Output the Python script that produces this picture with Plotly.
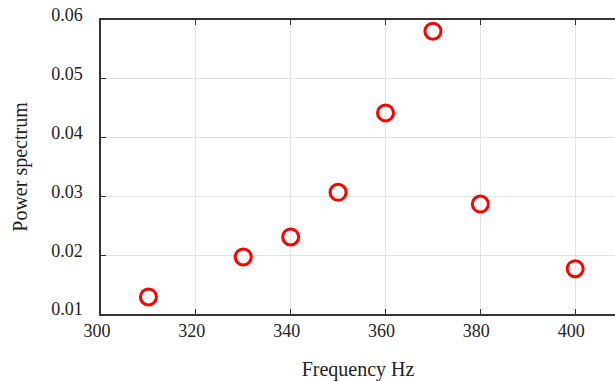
import plotly.graph_objects as go

freq = [310, 330, 340, 350, 360, 370, 380, 400]
power = [0.0129, 0.0197, 0.0231, 0.0307, 0.0442, 0.0581, 0.0287, 0.0177]
x_ticks = [300, 320, 340, 360, 380, 400]
y_ticks = [0.01, 0.02, 0.03, 0.04, 0.05, 0.06]

fig = go.Figure(go.Scatter(
    x=freq, y=power, mode="markers",
    marker=dict(symbol="circle-open", size=16, color="#ff0000",
                line=dict(width=3, color="#ff0000")),
))

fam = "Liberation Serif"
tickfont = dict(family=fam, size=18, color="#222")
titlefont = dict(family=fam, size=20, color="#222")
fig.update_layout(
    width=615, height=381,
    margin=dict(l=101, r=0, t=20, b=67),
    paper_bgcolor="white", plot_bgcolor="white",
    font=dict(family=fam, size=18, color="#222"), showlegend=False,
    xaxis=dict(range=[300, 408.4], tickvals=x_ticks, ticks="inside", ticklen=5,
               showline=True, linecolor="#333", linewidth=1.5, mirror="ticks",
               showgrid=True, gridcolor="#e3e3e3", zeroline=False, tickfont=tickfont,
               ticklabelshift=-4, automargin=False,
               title=dict(text="Frequency Hz", standoff=23, font=titlefont), tickcolor="#333"),
    yaxis=dict(range=[0.01, 0.06], tickvals=y_ticks, tickformat=".2f",
               ticks="inside", ticklen=5, showline=True, linecolor="#333",
               linewidth=1.5, showgrid=True, gridcolor="#e3e3e3", zeroline=False,
               tickfont=tickfont, ticklabelshift=-5, ticklabelstandoff=13, automargin=False,
               title=dict(text="Power spectrum", standoff=18, font=titlefont), tickcolor="#333"),
)

fig.write_html(
    "out.html",
    config={"displayModeBar": False},
    post_script="document.body.style.margin='0';document.body.style.overflow='hidden';",
)
